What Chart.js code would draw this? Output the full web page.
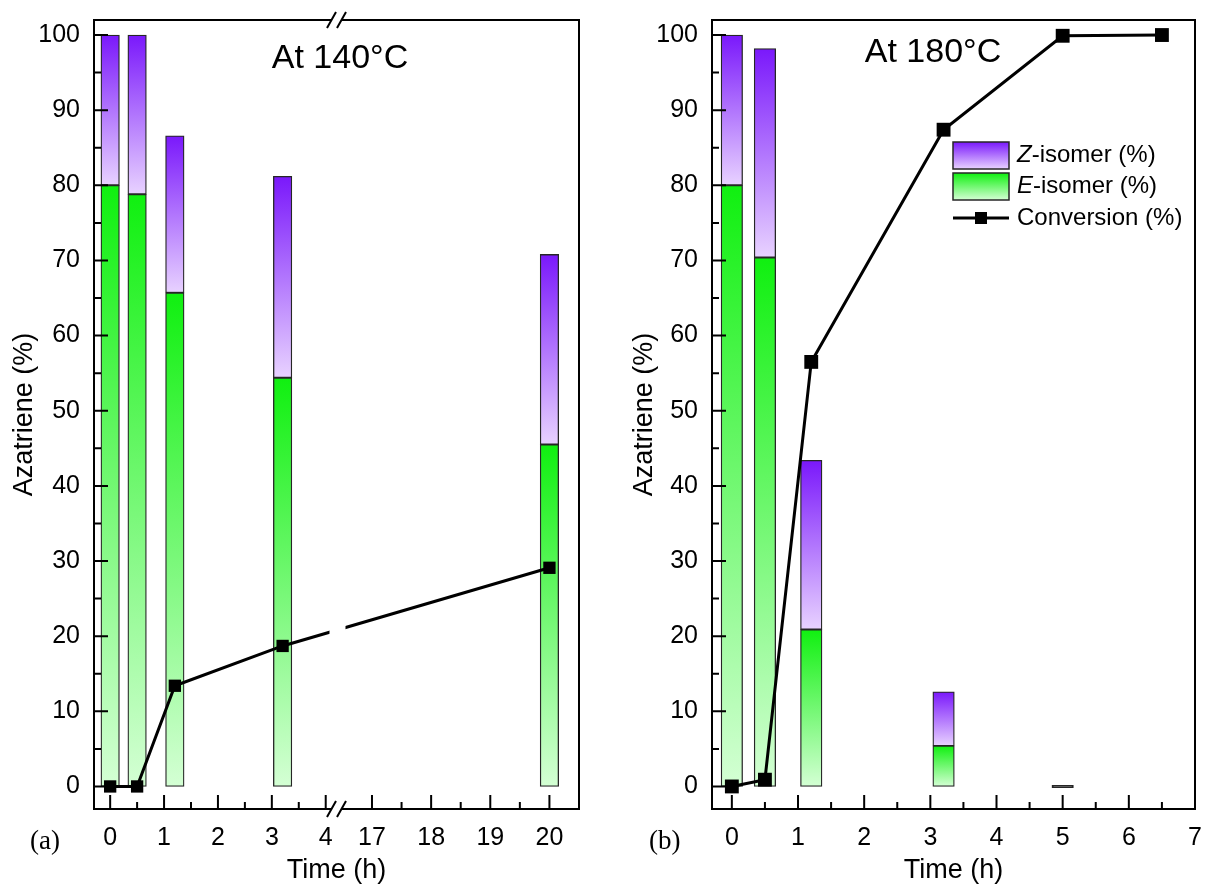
<!DOCTYPE html>
<html lang="en">
<head>
<meta charset="UTF-8">
<title>Azatriene isomers vs time</title>
<script src="https://cdn.jsdelivr.net/npm/chart.js"></script>
<style>
  body { margin: 0; background: #fff; }
  canvas { position: absolute; top: 0; }
  #left { left: 0; }
  #right { left: 600px; }
</style>
</head>
<body>
<canvas id="left" width="600" height="884"></canvas>
<canvas id="right" width="605" height="884"></canvas>
<script>
// (a) at 140 C
const timesA = [0, 0.5, 1.2, 3.2, 20];
const eIsomerA = [80, 78.8, 65.7, 54.4, 45.5];
const zIsomerA = [20, 21.2, 20.9, 26.8, 25.3];
const convA = [0, 0, 13.4, 18.7, 29.1];

// (b) at 180 C
const timesB = [0, 0.5, 1.2, 3.2, 5];
const eIsomerB = [80, 70.4, 20.9, 5.4, 0];
const zIsomerB = [20, 27.8, 22.5, 7.2, 0];
const convTimesB = [0, 0.5, 1.2, 3.2, 5, 6.5];
const convB = [0, 0.9, 56.5, 87.4, 99.9, 100];

// axes
const xTicksA = [0, 1, 2, 3, 4, 17, 18, 19, 20];
const xMinorA = [0.5, 1.5, 2.5, 3.5, 17.5, 18.5, 19.5];
const xTicksB = [0, 1, 2, 3, 4, 5, 6, 7];
const xMinorB = [0.5, 1.5, 2.5, 3.5, 4.5, 5.5, 6.5];
const yTicks = [0, 10, 20, 30, 40, 50, 60, 70, 80, 90, 100];
const yMinor = [5, 15, 25, 35, 45, 55, 65, 75, 85, 95];
const axisBreak = [4.2, 16.4];

const SANS = "'Liberation Sans', Arial, sans-serif";
const SERIF = "'Liberation Serif', 'Times New Roman', serif";
const Z_TOP = '#7a18fb', Z_BOT = '#e8d2ff';
const E_TOP = '#10f010', E_BOT = '#d4ffd4';
const EDGE = '#262626';

// x axis with a break: each side of the break gets half the width
const LinearScale = Chart.LinearScale || Chart.registry.getScale('linear');
class BrokenScale extends LinearScale {
    getPixelForValue(value) {
        const half = this.width / 2;
        const [b0, b1] = axisBreak;
        if (value <= b0) return this.left + (value - this.min) / (b0 - this.min) * half;
        if (value >= b1) return this.left + half + (value - b1) / (this.max - b1) * half;
        return this.left + half;
    }
    getValueForPixel(pixel) {
        const half = this.width / 2;
        const [b0, b1] = axisBreak;
        const d = pixel - this.left;
        if (d <= half) return this.min + d / half * (b0 - this.min);
        return b1 + (d - half) / half * (this.max - b1);
    }
}
BrokenScale.id = 'broken';
BrokenScale.defaults = LinearScale.defaults;
Chart.register(BrokenScale);

function gradientFill(c1, c2, below, vals) {
    return function(c) {
        const chart = c.chart, y = chart.scales.y;
        if (c.type !== 'data' || !chart.chartArea || !y) return c2;
        if (vals[c.dataIndex] === 0) return EDGE; // empty bar shows as a flat line
        const base = below ? below[c.dataIndex] : 0;
        const top = y.getPixelForValue(base + vals[c.dataIndex]);
        const bot = y.getPixelForValue(base);
        if (!isFinite(top) || Math.abs(bot - top) < 1) return c2;
        const g = chart.ctx.createLinearGradient(0, top, 0, bot);
        g.addColorStop(0, c1);
        g.addColorStop(1, c2);
        return g;
    };
}

function makeDatasets(times, eVals, zVals, convT, conv, barW, markR) {
    return [
        {
            type: 'line',
            label: 'Conversion (%)',
            data: convT.map((t, i) => ({x: t, y: conv[i]})),
            borderColor: '#000',
            borderWidth: 3,
            pointStyle: 'rect',
            pointRadius: markR,
            pointBackgroundColor: '#000',
            pointBorderWidth: 0,
            stack: 'conv',
            order: 0
        },
        {
            label: 'E-isomer (%)',
            data: times.map((t, i) => ({x: t, y: eVals[i]})),
            backgroundColor: gradientFill(E_TOP, E_BOT, null, eVals),
            borderColor: EDGE,
            borderWidth: 1.3,
            borderSkipped: false,
            barThickness: barW,
            minBarLength: 2.5,
            stack: 'iso',
            order: 1
        },
        {
            label: 'Z-isomer (%)',
            data: times.map((t, i) => ({x: t, y: zVals[i]})),
            backgroundColor: gradientFill(Z_TOP, Z_BOT, eVals, zVals),
            borderColor: EDGE,
            borderWidth: 1.3,
            borderSkipped: false,
            barThickness: barW,
            stack: 'iso',
            order: 2
        }
    ];
}

function makeOptions(cfg) {
    return {
        responsive: false,
        animation: false,
        devicePixelRatio: 1,
        layout: { padding: { left: 0, right: cfg.padRight, top: 20, bottom: 0 } },
        plugins: { legend: { display: false }, tooltip: { enabled: false } },
        scales: {
            x: {
                type: cfg.xType,
                min: cfg.xMin,
                max: cfg.xMax,
                offset: false,
                grid: { display: false, drawTicks: false },
                border: { display: false },
                afterBuildTicks: s => { s.ticks = cfg.xTicks.map(v => ({value: v})); },
                afterFit: s => { s.height = 75; s.paddingLeft = 0; s.paddingRight = 0; },
                ticks: {
                    autoSkip: false, maxRotation: 0, padding: 14, color: '#000',
                    font: { family: SANS, size: 25 },
                    callback: v => String(v)
                },
                title: {
                    display: true, text: 'Time (h)', color: '#000', padding: 0,
                    font: { family: SANS, size: 27, lineHeight: 1 }
                }
            },
            y: {
                type: 'linear',
                min: -3,
                max: 102,
                stacked: true,
                grid: { display: false, drawTicks: false },
                border: { display: false },
                afterBuildTicks: s => { s.ticks = yTicks.map(v => ({value: v})); },
                afterFit: s => { s.width = cfg.yWidth; s.paddingTop = 0; s.paddingBottom = 0; },
                ticks: {
                    padding: 14, color: '#000',
                    font: { family: SANS, size: 25 },
                    callback: v => String(v)
                },
                title: {
                    display: true, text: 'Azatriene (%)', color: '#000',
                    padding: { top: cfg.yTitlePad, bottom: 0 },
                    font: { family: SANS, size: 27, lineHeight: 1 }
                }
            }
        }
    };
}

function gradBox(ctx, x, y, w, h, c1, c2) {
    const g = ctx.createLinearGradient(0, y, 0, y + h);
    g.addColorStop(0, c1);
    g.addColorStop(1, c2);
    ctx.fillStyle = g;
    ctx.fillRect(x, y, w, h);
    ctx.strokeStyle = EDGE;
    ctx.lineWidth = 1.5;
    ctx.strokeRect(x, y, w, h);
}

// frame, inward ticks, axis break, labels and legend
function decor(cfg) {
    return {
        id: 'decor',
        afterDatasetsDraw(chart) {
            const {ctx, chartArea: a, scales: {x, y}} = chart;
            ctx.save();
            let bx = 0;
            if (cfg.broken) {
                bx = a.left + (a.right - a.left) / 2;
                ctx.fillStyle = '#fff';
                ctx.fillRect(bx - 7, a.top + 2, 16, a.bottom - a.top - 4);
            }
            ctx.strokeStyle = '#000';
            ctx.lineWidth = 2;
            ctx.strokeRect(a.left, a.top, a.right - a.left, a.bottom - a.top);

            ctx.beginPath();
            cfg.xTicks.forEach(v => {
                const px = x.getPixelForValue(v);
                ctx.moveTo(px, a.bottom); ctx.lineTo(px, a.bottom - 14);
            });
            cfg.xMinor.forEach(v => {
                const px = x.getPixelForValue(v);
                ctx.moveTo(px, a.bottom); ctx.lineTo(px, a.bottom - 7);
            });
            yTicks.forEach(v => {
                const py = y.getPixelForValue(v);
                ctx.moveTo(a.left, py); ctx.lineTo(a.left + 14, py);
            });
            yMinor.forEach(v => {
                const py = y.getPixelForValue(v);
                ctx.moveTo(a.left, py); ctx.lineTo(a.left + 7, py);
            });
            ctx.stroke();

            if (cfg.broken) {
                [a.top, a.bottom].forEach(ly => {
                    ctx.fillStyle = '#fff';
                    ctx.fillRect(bx - 5, ly - 1.5, 10, 3);
                    ctx.beginPath();
                    [-5, 5].forEach(dx => {
                        ctx.moveTo(bx + dx - 4.5, ly + 8);
                        ctx.lineTo(bx + dx + 4.5, ly - 8);
                    });
                    ctx.lineWidth = 2;
                    ctx.stroke();
                });
            }

            ctx.fillStyle = '#000';
            ctx.textBaseline = 'alphabetic';
            ctx.textAlign = 'center';
            ctx.font = '34px ' + SANS;
            ctx.fillText(cfg.title, cfg.titleX, cfg.titleY);
            ctx.textAlign = 'left';
            ctx.font = '27px ' + SERIF;
            ctx.fillText(cfg.panel, cfg.panelX, 849);

            if (cfg.legend) {
                const L = cfg.legend;
                gradBox(ctx, L.x, L.rows[0] - 13.5, L.w, 27, Z_TOP, Z_BOT);
                gradBox(ctx, L.x, L.rows[1] - 13.5, L.w, 27, E_TOP, E_BOT);
                ctx.strokeStyle = '#000';
                ctx.lineWidth = 3;
                ctx.beginPath();
                ctx.moveTo(L.x, L.rows[2]); ctx.lineTo(L.x + L.w, L.rows[2]);
                ctx.stroke();
                ctx.fillStyle = '#000';
                ctx.fillRect(L.x + L.w / 2 - 6, L.rows[2] - 6, 12, 12);

                ctx.textBaseline = 'middle';
                const tx = L.x + L.w + 8;
                [['Z', '-isomer (%)'], ['E', '-isomer (%)']].forEach((p, i) => {
                    ctx.font = 'italic 24px ' + SANS;
                    ctx.fillText(p[0], tx, L.rows[i]);
                    const w = ctx.measureText(p[0]).width;
                    ctx.font = '24px ' + SANS;
                    ctx.fillText(p[1], tx + w, L.rows[i]);
                });
                ctx.fillText('Conversion (%)', tx, L.rows[2]);
            }
            ctx.restore();
        }
    };
}

new Chart(document.getElementById('left'), {
    type: 'bar',
    data: { datasets: makeDatasets(timesA, eIsomerA, zIsomerA, timesA, convA, 18.5, 8.7) },
    options: makeOptions({ xType: 'broken', xMin: -0.3, xMax: 20.5, xTicks: xTicksA,
                           padRight: 21, yWidth: 94, yTitlePad: 11.5 }),
    plugins: [decor({ broken: true, xTicks: xTicksA, xMinor: xMinorA,
                      title: 'At 140°C', titleX: 340, titleY: 68,
                      panel: '(a)', panelX: 30 })]
});

new Chart(document.getElementById('right'), {
    type: 'bar',
    data: { datasets: makeDatasets(timesB, eIsomerB, zIsomerB, convTimesB, convB, 21.5, 9.8) },
    options: makeOptions({ xType: 'linear', xMin: -0.3, xMax: 7, xTicks: xTicksB,
                           padRight: 10, yWidth: 112, yTitlePad: 31.5 }),
    plugins: [decor({ broken: false, xTicks: xTicksB, xMinor: xMinorB,
                      title: 'At 180°C', titleX: 333, titleY: 62,
                      panel: '(b)', panelX: 49,
                      legend: { x: 353, w: 56, rows: [155.5, 186.5, 218] } })]
});
</script>
</body>
</html>
